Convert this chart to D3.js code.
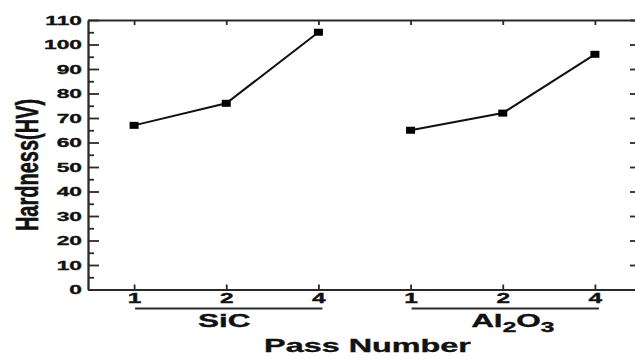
<!DOCTYPE html>
<html>
<head>
<meta charset="utf-8">
<script src="https://cdn.jsdelivr.net/npm/d3@7/dist/d3.min.js"></script>
<style>
  body { margin: 0; background: #fff; }
  svg { display: block; font-family: "Liberation Sans", Arial, sans-serif; font-weight: bold; }
  text { stroke: #111; stroke-width: 0.35px; }
</style>
</head>
<body>
<script>
// chart data
const passNumbers = ["1", "2", "4"];
const groups = ["SiC", "Al2O3"];
const sicHardness = [67, 76, 105];
const al2o3Hardness = [65, 72, 96];
const yMajorTicks = [0, 10, 20, 30, 40, 50, 60, 70, 80, 90, 100, 110];

// the picture is stretched sideways, so the text is too
const sx = 1.75;

const W = 635, H = 359;
const margin = {top: 20, right: -6, bottom: 69.5, left: 88};
const width = W - margin.left - margin.right;
const height = H - margin.top - margin.bottom;

const svg = d3.select("body").append("svg")
    .attr("width", W)
    .attr("height", H);

const plot = svg.append("g")
    .attr("transform", `translate(${margin.left},${margin.top})`);

// one slot per group/pass pair
const keys = [];
groups.forEach(g => passNumbers.forEach(p => keys.push(g + "|" + p)));

const x = d3.scalePoint()
    .domain(keys)
    .range([0, width])
    .padding(0.5);

const y = d3.scaleLinear()
    .domain([0, 110])
    .range([height, 0]);

const yMinor = d3.range(5, 110, 10);

function styleAxis(g) {
  g.selectAll("path, line").attr("stroke", "#2a2a2a").attr("stroke-width", 1.8);
}

// left axis, ticks point inside
plot.append("g")
    .call(d3.axisLeft(y).tickValues(yMajorTicks).tickSize(-11).tickSizeOuter(0).tickPadding(0))
    .call(styleAxis)
    .call(g => g.selectAll("text")
        .attr("x", -6 / sx)
        .attr("transform", `scale(${sx},1)`)
        .attr("fill", "#111")
        .style("font-size", "13px")
        .style("font-weight", "bold"));

plot.append("g")
    .call(d3.axisLeft(y).tickValues(yMinor).tickSize(-6).tickFormat("").tickSizeOuter(0))
    .call(styleAxis);

// right axis, mostly off the picture
plot.append("g")
    .attr("transform", `translate(${width},0)`)
    .call(d3.axisRight(y).tickValues(yMajorTicks).tickSize(-11).tickFormat("").tickSizeOuter(0))
    .call(styleAxis);

plot.append("g")
    .attr("transform", `translate(${width},0)`)
    .call(d3.axisRight(y).tickValues(yMinor).tickSize(-6).tickFormat("").tickSizeOuter(0))
    .call(styleAxis);

// top frame line
plot.append("g")
    .call(d3.axisTop(x).tickSize(-5).tickFormat("").tickSizeOuter(0))
    .call(styleAxis);

// bottom axis with pass numbers
plot.append("g")
    .attr("transform", `translate(0,${height})`)
    .call(d3.axisBottom(x).tickSize(-5).tickSizeOuter(0).tickPadding(4)
        .tickFormat(k => k.split("|")[1]))
    .call(styleAxis)
    .call(g => g.selectAll(".tick line").attr("y2", -5).attr("y1", 1))
    .call(g => g.selectAll("text")
        .attr("transform", `scale(${sx},1)`)
        .attr("fill", "#111")
        .style("font-size", "14px")
        .style("font-weight", "bold"));

// group brackets and names
groups.forEach(g => {
  const x0 = x(g + "|" + passNumbers[0]);
  const x1 = x(g + "|" + passNumbers[passNumbers.length - 1]);

  plot.append("line")
      .attr("x1", x0 + 1)
      .attr("x2", x1 + 4)
      .attr("y1", height + 19)
      .attr("y2", height + 19)
      .attr("stroke", "#2a2a2a")
      .attr("stroke-width", 1.8);

  const label = plot.append("text")
      .attr("transform", `translate(${(x0 + x1) / 2 + (g === "SiC" ? -2 : 10)},${height + 37}) scale(${sx},1)`)
      .attr("text-anchor", "middle")
      .attr("fill", "#111")
      .style("font-size", "18px");

  // write chemical formula digits as subscripts
  let shift = 0;
  g.split(/(\d)/).filter(s => s).forEach(part => {
    const sub = /\d/.test(part);
    const ts = label.append("tspan").text(part);
    if (sub) {
      ts.attr("dy", 5 - shift).style("font-size", "14px");
      shift = 5;
    } else if (shift) {
      ts.attr("dy", -shift);
      shift = 0;
    }
  });
});

// series lines and square markers
const series = [
  {group: "SiC", values: sicHardness},
  {group: "Al2O3", values: al2o3Hardness}
];

const line = d3.line()
    .x(d => x(d.key))
    .y(d => y(d.value));

series.forEach(s => {
  const pts = s.values.map((v, i) => ({key: s.group + "|" + passNumbers[i], value: v}));

  plot.append("path")
      .datum(pts)
      .attr("d", line)
      .attr("fill", "none")
      .attr("stroke", "#111")
      .attr("stroke-width", 2);

  plot.selectAll(null)
      .data(pts)
      .enter()
      .append("rect")
      .attr("x", d => x(d.key) - 4.5)
      .attr("y", d => y(d.value) - 3.5)
      .attr("width", 9)
      .attr("height", 7)
      .attr("fill", "#000");
});

// axis titles
svg.append("text")
    .attr("transform", `translate(${margin.left + width / 2 + 3},352) scale(${sx},1)`)
    .attr("text-anchor", "middle")
    .attr("fill", "#111")
    .style("font-size", "18.5px")
    .text("Pass Number");

svg.append("text")
    .attr("transform", `translate(38,165) rotate(-90) scale(1,1.6)`)
    .attr("text-anchor", "middle")
    .attr("fill", "#111")
    .style("font-size", "20px")
    .text("Hardness(HV)");
</script>
</body>
</html>
